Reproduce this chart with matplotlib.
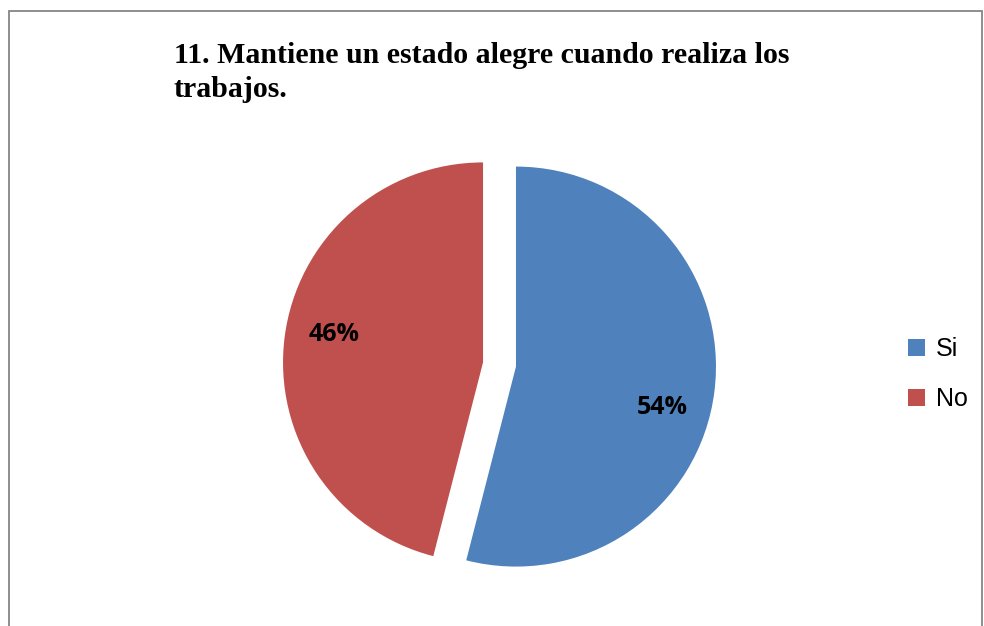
import matplotlib.pyplot as plt
from matplotlib.patches import Patch, Rectangle
import numpy as np

# data
labels = ["Si", "No"]
values = [54, 46]
colors = ["#4F81BD", "#C0504D"]
title_lines = ["11. Mantiene un estado alegre cuando realiza los", "trabajos."]

W, H = 984, 626
fig = plt.figure(figsize=(W / 100, H / 100), dpi=100)
fig.patch.set_facecolor("white")

# outer chart border (bottom edge falls outside the image)
fig.patches.append(Rectangle((8.5 / W, -0.05), (982 - 8.5) / W, (H - 11) / H + 0.05,
                             transform=fig.transFigure, fill=False,
                             edgecolor="#868686", linewidth=1.3))

# pie axes: center ~ (499.5, 364.5) px, radius 200 px
cx, cy, half = 499.5, H - 364.5, 250
ax = fig.add_axes([(cx - half) / W, (cy - half) / H, 2 * half / W, 2 * half / H])
wedges, texts, autotexts = ax.pie(values, colors=colors, startangle=90, counterclock=False,
                                  explode=[0.083, 0.083], autopct="%1.0f%%",
                                  pctdistance=0.76,
                                  textprops=dict(fontsize=18, fontweight="bold",
                                                 family="Open Sans", color="black"))
ax.set_xlim(-1.25, 1.25)
ax.set_ylim(-1.25, 1.25)
ax.set_aspect("equal")
ax.axis("off")

# nudge percentage labels like the original
for w, t, d in zip(wedges, autotexts, [-8.5, -3.5]):
    ang = np.deg2rad((w.theta1 + w.theta2) / 2 + d)
    c = w.center
    t.set_position((c[0] + 0.76 * np.cos(ang), c[1] + 0.76 * np.sin(ang)))

# title, two lines
for i, line in enumerate(title_lines):
    fig.text(174 / W, 1 - (63 + 34 * i) / H, line, ha="left", va="baseline",
             fontsize=21.5, fontweight="bold", family="Liberation Serif")

handles = [Patch(facecolor=c, edgecolor="none") for c in colors]
fig.legend(handles, labels, loc="center left", bbox_to_anchor=(890 / W, 1 - 374 / H),
           frameon=False, prop=dict(family="Liberation Sans", size=18),
           handlelength=0.68, handleheight=0.68, handletextpad=0.45,
           labelspacing=1.05, borderpad=0.2)

fig.savefig("out.png", dpi=100)
